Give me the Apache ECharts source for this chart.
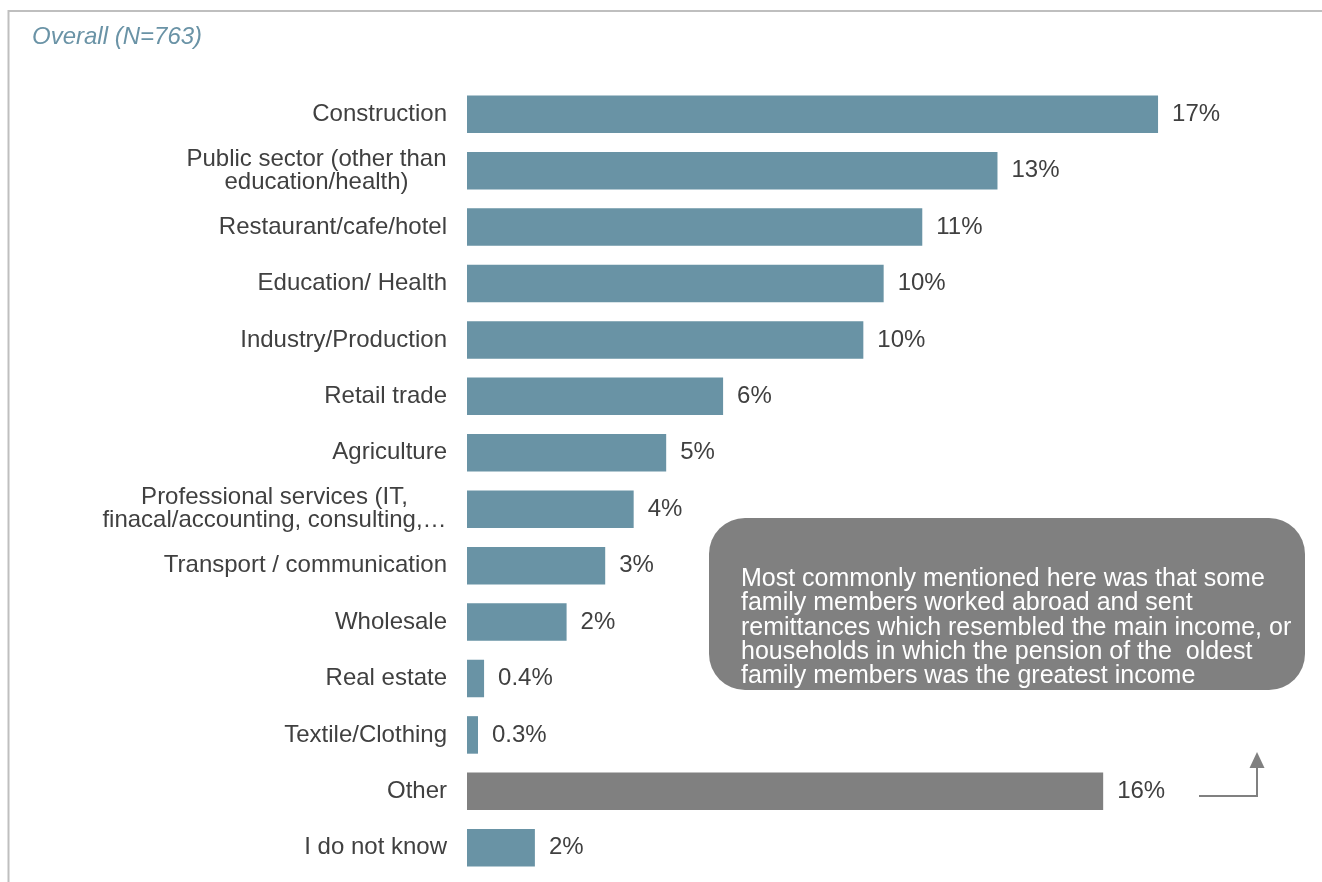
<!DOCTYPE html>
<html>
<head>
<meta charset="utf-8">
<title>Main source of household income by sector</title>
<script src="https://cdn.jsdelivr.net/npm/echarts@6/dist/echarts.min.js"></script>
<style>
  html, body { margin: 0; padding: 0; background: #ffffff; }
  #chart { width: 1322px; height: 882px; }
</style>
</head>
<body>
<div id="chart"></div>
<script>
// Sectors, top to bottom
const categories = [
  'Construction',
  'Public sector (other than\neducation/health)',
  'Restaurant/cafe/hotel',
  'Education/ Health',
  'Industry/Production',
  'Retail trade',
  'Agriculture',
  'Professional services (IT,\nfinacal/accounting, consulting,\u2026',
  'Transport / communication',
  'Wholesale',
  'Real estate',
  'Textile/Clothing',
  'Other',
  'I do not know'
];

// Share of respondents, percent
const shares = [17.0, 13.05, 11.2, 10.25, 9.75, 6.3, 4.9, 4.1, 3.4, 2.45, 0.42, 0.27, 15.65, 1.67];

const sampleTitle = 'Overall (N=763)';
const highlightCategory = 'Other';
const otherNote = 'Most commonly mentioned here was that some\nfamily members worked abroad and sent\nremittances which resembled the main income, or\nhouseholds in which the pension of the  oldest\nfamily members was the greatest income';

const FONT = '"Liberation Sans", Arial, sans-serif';
const LABEL_SIZE = 24;
const BLUE = '#6993a5';
const GREY = '#808080';
const TEXT = '#404040';

// Multi-line category labels: lines centred on each other, block right-aligned to the axis
const measureCtx = document.createElement('canvas').getContext('2d');
measureCtx.font = LABEL_SIZE + 'px ' + FONT;
const rich = {};
categories.forEach((c, i) => {
  const lines = c.split('\n');
  if (lines.length > 1) {
    const w = Math.ceil(Math.max(...lines.map(l => measureCtx.measureText(l).width)));
    rich['m' + i] = { width: w, align: 'center', fontSize: LABEL_SIZE, fontFamily: FONT, color: TEXT, lineHeight: 23 };
  }
});

const fmtPct = v => (v < 1 ? v.toFixed(1) : Math.round(v).toString()) + '%';

const chart = echarts.init(document.getElementById('chart'), null, { renderer: 'canvas' });

chart.setOption({
  animation: false,
  backgroundColor: '#ffffff',
  title: {
    text: sampleTitle,
    left: 27,
    top: 20,
    textStyle: { fontFamily: FONT, fontSize: LABEL_SIZE, fontStyle: 'italic', fontWeight: 'normal', color: '#6a93a6' }
  },
  grid: { left: 467, top: 86, width: 813, height: 790 },
  xAxis: {
    type: 'value',
    min: 0,
    max: 20,
    show: false
  },
  yAxis: {
    type: 'category',
    data: categories,
    inverse: true,
    axisLine: { show: false },
    axisTick: { show: false },
    splitLine: { show: false },
    axisLabel: {
      interval: 0,
      margin: 20,
      fontFamily: FONT,
      fontSize: LABEL_SIZE,
      color: TEXT,
      lineHeight: 23,
      rich: rich,
      formatter: (value) => {
        const lines = value.split('\n');
        if (lines.length === 1) return value;
        const i = categories.indexOf(value);
        return lines.map(l => '{m' + i + '|' + l + '}').join('\n');
      }
    }
  },
  series: [{
    type: 'bar',
    data: shares,
    barCategoryGap: '33.5%',
    itemStyle: {
      color: p => (p.name === highlightCategory ? GREY : BLUE)
    },
    label: {
      show: true,
      position: 'right',
      distance: 14,
      fontFamily: FONT,
      fontSize: LABEL_SIZE,
      color: TEXT,
      formatter: p => fmtPct(p.value)
    }
  }],
  graphic: [
    // open frame: left and top edges
    {
      type: 'polyline',
      silent: true,
      shape: { points: [[8.5, 882], [8.5, 11], [1322, 11]] },
      style: { stroke: '#bfbfbf', lineWidth: 2, fill: null }
    },
    // note box for "Other"
    {
      type: 'rect',
      silent: true,
      shape: { x: 709, y: 518, width: 596, height: 172, r: 36 },
      style: { fill: GREY }
    },
    {
      type: 'text',
      silent: true,
      x: 741,
      y: 567,
      style: {
        text: otherNote,
        fill: '#ffffff',
        font: '25px ' + FONT,
        lineHeight: 24.3,
        verticalAlign: 'top',
        align: 'left'
      }
    },
    // connector from the "Other" bar up to the note
    {
      type: 'polyline',
      silent: true,
      shape: { points: [[1199, 796], [1257, 796], [1257, 765]] },
      style: { stroke: GREY, lineWidth: 2, fill: null }
    },
    {
      type: 'polygon',
      silent: true,
      shape: { points: [[1249.5, 768], [1264.5, 768], [1257, 752]] },
      style: { fill: GREY }
    }
  ]
});
</script>
</body>
</html>
